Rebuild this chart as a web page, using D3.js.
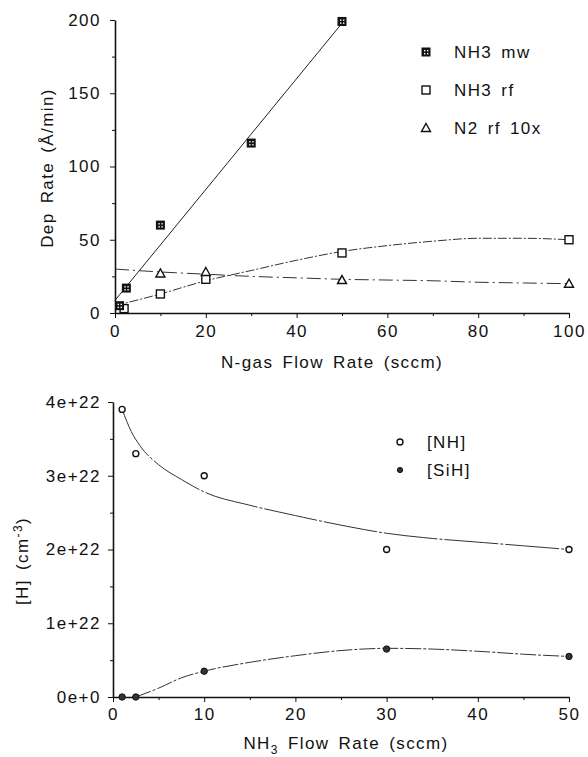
<!DOCTYPE html>
<html>
<head>
<meta charset="utf-8">
<script src="https://cdn.jsdelivr.net/npm/d3@7"></script>
<style>
  body { margin: 0; background: #fff; }
  svg { font-family: "Liberation Sans", Arial, sans-serif; }
  .tick text { font-size: 17px; letter-spacing: 1.5px; fill: #111; }
  .lbl { font-size: 17px; letter-spacing: 1.4px; word-spacing: 3px; fill: #111; }
  .domain, .tick line { stroke: #111; }
</style>
</head>
<body>
<script>
// ---- top panel data (deposition rate) ----
var mwX = [1, 2.5, 10, 30, 50];
var mwY = [5, 17, 60, 116, 199];
var rfX = [2, 10, 20, 50, 100];
var rfY = [3, 13, 23, 41, 50];
var n2X = [10, 20, 50, 100];
var n2Y = [27, 28, 22.5, 20];
// hand traced fit curves
var rfCurve = [[0, 5], [10, 13], [20, 22], [30, 29], [40, 36], [50, 42], [60, 46], [70, 49], [80, 51], [90, 51], [100, 50]];
var n2Curve = [[0, 30], [10, 28], [20, 26.5], [30, 25], [40, 24], [50, 23], [60, 22.5], [70, 22], [80, 21], [90, 20.5], [100, 20]];
var depTicks = [0, 50, 100, 150, 200];
var flowTicks = [0, 20, 40, 60, 80, 100];

// ---- bottom panel data (hydrogen content) ----
var nhX = [1, 2.5, 10, 30, 50];
var nhY = [3.9e22, 3.3e22, 3.0e22, 2.0e22, 2.0e22];
var sihX = [1, 2.5, 10, 30, 50];
var sihY = [0, 0, 0.35e22, 0.65e22, 0.55e22];
var nhCurve = [[1, 3.9e22], [2, 3.6e22], [3, 3.4e22], [5, 3.15e22], [7.5, 2.95e22], [10, 2.78e22], [15, 2.6e22], [20, 2.46e22], [25, 2.33e22], [30, 2.22e22], [35, 2.15e22], [40, 2.1e22], [45, 2.05e22], [50, 2.0e22]];
var sihCurve = [[2.5, 0], [5, 0.12e22], [7.5, 0.26e22], [10, 0.35e22], [15, 0.47e22], [20, 0.56e22], [25, 0.63e22], [30, 0.66e22], [35, 0.65e22], [40, 0.62e22], [45, 0.58e22], [50, 0.55e22]];
var hTicks = [0, 1e22, 2e22, 3e22, 4e22];
var hTickLabels = ["0e+0", "1e+22", "2e+22", "3e+22", "4e+22"];
var nh3Ticks = [0, 10, 20, 30, 40, 50];

var width = 588, height = 757;

var svg = d3.select("body").append("svg")
    .attr("width", width)
    .attr("height", height);

function zip(xs, ys) { return xs.map(function(d, i) { return [d, ys[i]]; }); }

// ========== top panel ==========
var x1 = d3.scaleLinear().domain([0, 100]).range([115, 569]);
var y1 = d3.scaleLinear().domain([0, 200]).range([313, 20]);
var topG = svg.append("g");

// minor ticks
topG.append("g").attr("transform", "translate(0,313)")
    .call(d3.axisBottom(x1).tickValues(d3.range(10, 100, 20)).tickSize(3).tickFormat(""))
    .call(function(g) { g.select(".domain").remove(); });
topG.append("g").attr("transform", "translate(115,0)")
    .call(d3.axisLeft(y1).tickValues(d3.range(25, 200, 50)).tickSize(3).tickFormat(""))
    .call(function(g) { g.select(".domain").remove(); });

topG.append("g").attr("transform", "translate(0,313)")
    .call(d3.axisBottom(x1).tickValues(flowTicks).tickSize(5).tickSizeOuter(0).tickPadding(7))
    .call(function(g) { g.select(".domain").attr("stroke-width", 1.6); });
topG.append("g").attr("transform", "translate(115,0)")
    .call(d3.axisLeft(y1).tickValues(depTicks).tickSize(5).tickSizeOuter(0).tickPadding(9))
    .call(function(g) { g.select(".domain").attr("stroke-width", 1.6); });

// least squares line for NH3 mw
var mwPts = zip(mwX, mwY);
var mx = d3.mean(mwX), my = d3.mean(mwY);
var slope = d3.sum(mwPts, function(p) { return (p[0] - mx) * (p[1] - my); }) /
            d3.sum(mwX, function(v) { return (v - mx) * (v - mx); });
var icpt = my - slope * mx;
topG.append("line")
    .attr("x1", x1(0)).attr("y1", y1(icpt))
    .attr("x2", x1(50)).attr("y2", y1(icpt + slope * 50))
    .attr("stroke", "#222").attr("stroke-width", 1);

var curve = d3.line()
    .x(function(d) { return x1(d[0]); })
    .y(function(d) { return y1(d[1]); })
    .curve(d3.curveMonotoneX);

topG.append("path").datum(rfCurve)
    .attr("d", curve).attr("fill", "none")
    .attr("stroke", "#333").attr("stroke-width", 1)
    .attr("stroke-dasharray", "9,2,2,2");
topG.append("path").datum(n2Curve)
    .attr("d", curve).attr("fill", "none")
    .attr("stroke", "#333").attr("stroke-width", 1)
    .attr("stroke-dasharray", "14,4,2,4");

// markers
function patSquare(g, cx, cy) {
    g.append("rect").attr("x", cx - 4.5).attr("y", cy - 4.5).attr("width", 9).attr("height", 9).attr("fill", "#111");
    [[-2, -2], [1, -2], [-2, 1], [1, 1]].forEach(function(o) {
        g.append("rect").attr("x", cx + o[0]).attr("y", cy + o[1]).attr("width", 1.4).attr("height", 1.4).attr("fill", "#fff");
    });
}
function openSquare(g, cx, cy) {
    g.append("rect").attr("x", cx - 4).attr("y", cy - 4).attr("width", 8).attr("height", 8)
        .attr("fill", "#fff").attr("stroke", "#111").attr("stroke-width", 1.4);
}
function triangle(g, cx, cy) {
    g.append("path").attr("d", "M" + cx + "," + (cy - 4.5) + "L" + (cx + 4.5) + "," + (cy + 3.5) + "L" + (cx - 4.5) + "," + (cy + 3.5) + "Z")
        .attr("fill", "#fff").attr("stroke", "#111").attr("stroke-width", 1.4);
}

zip(rfX, rfY).forEach(function(p) { openSquare(topG, x1(p[0]), y1(p[1])); });
zip(n2X, n2Y).forEach(function(p) { triangle(topG, x1(p[0]), y1(p[1])); });
mwPts.forEach(function(p) { patSquare(topG, x1(p[0]), y1(p[1])); });

// legend
patSquare(topG, 426, 52);
openSquare(topG, 426, 90);
triangle(topG, 426, 128);
topG.append("text").attr("class", "lbl").attr("x", 454).attr("y", 58).text("NH3 mw");
topG.append("text").attr("class", "lbl").attr("x", 454).attr("y", 96).text("NH3  rf");
topG.append("text").attr("class", "lbl").attr("x", 454).attr("y", 134).text("N2  rf  10x");

topG.append("text").attr("class", "lbl").attr("x", 332).attr("y", 368)
    .attr("text-anchor", "middle").text("N-gas Flow Rate (sccm)");
topG.append("text").attr("class", "lbl")
    .attr("transform", "translate(53,168) rotate(-90)")
    .attr("text-anchor", "middle").text("Dep Rate (Å/min)");

// ========== bottom panel ==========
var x2 = d3.scaleLinear().domain([0, 50]).range([113, 569]);
var y2 = d3.scaleLinear().domain([0, 4e22]).range([697, 402]);
var bot = svg.append("g");

bot.append("g").attr("transform", "translate(0,697)")
    .call(d3.axisBottom(x2).tickValues(d3.range(5, 50, 10)).tickSize(3).tickFormat(""))
    .call(function(g) { g.select(".domain").remove(); });
bot.append("g").attr("transform", "translate(113,0)")
    .call(d3.axisLeft(y2).tickValues(d3.range(0.5e22, 4e22, 1e22)).tickSize(3).tickFormat(""))
    .call(function(g) { g.select(".domain").remove(); });

bot.append("g").attr("transform", "translate(0,697)")
    .call(d3.axisBottom(x2).tickValues(nh3Ticks).tickSize(5).tickSizeOuter(0).tickPadding(6))
    .call(function(g) { g.select(".domain").attr("stroke-width", 1.6); });
bot.append("g").attr("transform", "translate(113,0)")
    .call(d3.axisLeft(y2).tickValues(hTicks).tickSize(5).tickSizeOuter(0).tickPadding(7)
        .tickFormat(function(d, i) { return hTickLabels[i]; }))
    .call(function(g) { g.select(".domain").attr("stroke-width", 1.6); });

var curve2 = d3.line()
    .x(function(d) { return x2(d[0]); })
    .y(function(d) { return y2(d[1]); })
    .curve(d3.curveMonotoneX);

bot.append("path").datum(nhCurve)
    .attr("d", curve2).attr("fill", "none")
    .attr("stroke", "#333").attr("stroke-width", 1)
    .attr("stroke-dasharray", "40,0,14,2,3,2");
bot.append("path").datum(sihCurve)
    .attr("d", curve2).attr("fill", "none")
    .attr("stroke", "#333").attr("stroke-width", 1)
    .attr("stroke-dasharray", "16,2,3,2");

zip(nhX, nhY).forEach(function(p) {
    bot.append("circle").attr("cx", x2(p[0])).attr("cy", y2(p[1])).attr("r", 3)
        .attr("fill", "#fff").attr("stroke", "#111").attr("stroke-width", 1.4);
});
zip(sihX, sihY).forEach(function(p) {
    bot.append("circle").attr("cx", x2(p[0])).attr("cy", y2(p[1])).attr("r", 3.2)
        .attr("fill", "#333").attr("stroke", "#111").attr("stroke-width", 1);
});

// legend
bot.append("circle").attr("cx", 400).attr("cy", 442).attr("r", 3)
    .attr("fill", "#fff").attr("stroke", "#111").attr("stroke-width", 1.4);
bot.append("circle").attr("cx", 400).attr("cy", 470).attr("r", 2.6)
    .attr("fill", "#333").attr("stroke", "#111").attr("stroke-width", 1);
bot.append("text").attr("class", "lbl").attr("x", 427).attr("y", 448).text("[NH]");
bot.append("text").attr("class", "lbl").attr("x", 427).attr("y", 476).text("[SiH]");

var xl = bot.append("text").attr("class", "lbl").attr("x", 346).attr("y", 749)
    .attr("text-anchor", "middle");
xl.append("tspan").text("NH");
xl.append("tspan").attr("dy", 5).attr("font-size", 12).text("3");
xl.append("tspan").attr("dy", -5).text("  Flow Rate (sccm)");

var yl = bot.append("text").attr("class", "lbl")
    .attr("transform", "translate(28,561) rotate(-90)")
    .attr("text-anchor", "middle");
yl.append("tspan").text("[H]  (cm");
yl.append("tspan").attr("dy", -6).attr("font-size", 12).text("-3");
yl.append("tspan").attr("dy", 6).text(")");
</script>
</body>
</html>
